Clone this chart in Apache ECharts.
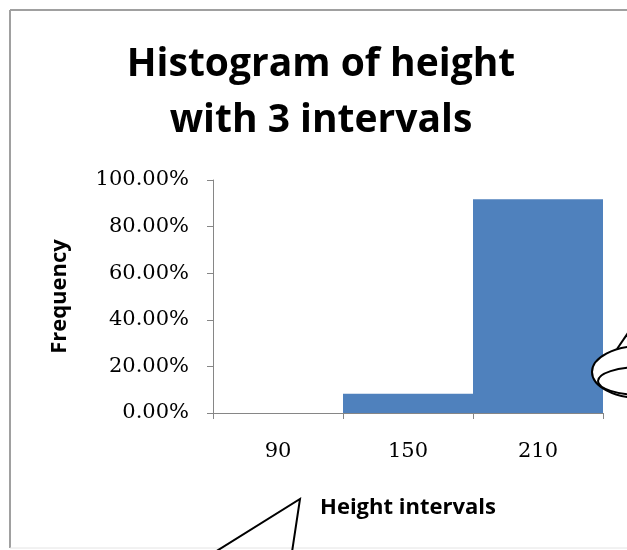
<!DOCTYPE html>
<html>
<head>
<meta charset="utf-8">
<script src="https://cdn.jsdelivr.net/npm/echarts@6/dist/echarts.min.js"></script>
<style>
html,body{margin:0;padding:0;background:#fff;}
#c{width:627px;height:550px;}
</style>
</head>
<body>
<div id="c"></div>
<script>
const categories = ['90', '150', '210'];
const frequency = [0, 8.3, 91.7];
const yTicks = [0, 20, 40, 60, 80, 100];
const titleText = 'Histogram of height\nwith 3 intervals';
const xName = 'Height intervals';
const yName = 'Frequency';

const chart = echarts.init(document.getElementById('c'), null, {renderer: 'canvas'});
const axisGray = '#868686';
const option = {
  backgroundColor: '#ffffff',
  animation: false,
  title: {
    text: titleText,
    left: 316,
    top: 32,
    textAlign: 'center',
    textStyle: {
      fontFamily: 'Open Sans',
      fontWeight: 'bold',
      fontSize: 39,
      lineHeight: 56,
      color: '#000'
    }
  },
  grid: {left: 213, right: 24, top: 180, bottom: 137, containLabel: false},
  xAxis: {
    type: 'category',
    data: categories,
    name: xName,
    nameLocation: 'middle',
    nameGap: 84,
    nameTextStyle: {fontFamily: 'Open Sans', fontWeight: 'bold', fontSize: 22, color: '#000'},
    axisLine: {show: true, lineStyle: {color: axisGray, width: 1}},
    axisTick: {show: true, length: 6, alignWithLabel: false, lineStyle: {color: axisGray}},
    axisLabel: {margin: 28, fontFamily: 'DejaVu Serif', fontSize: 21, color: '#000'},
    splitLine: {show: false}
  },
  yAxis: {
    type: 'value',
    min: yTicks[0],
    max: yTicks[yTicks.length - 1],
    interval: yTicks[1] - yTicks[0],
    name: yName,
    nameLocation: 'middle',
    nameGap: 142,
    nameRotate: 90,
    nameTextStyle: {fontFamily: 'Open Sans', fontWeight: 'bold', fontSize: 22, color: '#000'},
    axisLine: {show: true, lineStyle: {color: axisGray, width: 1}},
    axisTick: {show: true, length: 6, lineStyle: {color: axisGray}},
    axisLabel: {
      margin: 24,
      fontFamily: 'DejaVu Serif',
      fontSize: 21,
      color: '#000',
      formatter: v => v.toFixed(2) + '%'
    },
    splitLine: {show: false}
  },
  series: [{
    type: 'bar',
    data: frequency,
    barWidth: '100%',
    barCategoryGap: '0%',
    itemStyle: {color: '#4F81BD'}
  }],
  graphic: [
    {type: 'line', shape: {x1: 10, y1: 10, x2: 640, y2: 10}, style: {stroke: '#a0a0a0', lineWidth: 2}, silent: true, z: 100},
    {type: 'line', shape: {x1: 10, y1: 10, x2: 10, y2: 548}, style: {stroke: '#a0a0a0', lineWidth: 2}, silent: true, z: 100},
    {type: 'line', shape: {x1: 10, y1: 548, x2: 640, y2: 548}, style: {stroke: '#e4e4e4', lineWidth: 1}, silent: true, z: 100},
    {type: 'polyline', shape: {points: [[215, 552], [300, 499], [292, 552]]}, style: {fill: null, stroke: '#000', lineWidth: 2}, z: 100},
    {type: 'ellipse', shape: {cx: 641, cy: 372, rx: 49, ry: 26}, style: {fill: '#fff', stroke: '#000', lineWidth: 2}, z: 100},
    {type: 'ellipse', shape: {cx: 641, cy: 381, rx: 43, ry: 14}, style: {fill: null, stroke: '#000', lineWidth: 2}, z: 101},
    {type: 'line', shape: {x1: 617, y1: 349, x2: 630, y2: 330}, style: {stroke: '#000', lineWidth: 2}, z: 101}
  ]
};
chart.setOption(option);
</script>
</body>
</html>
